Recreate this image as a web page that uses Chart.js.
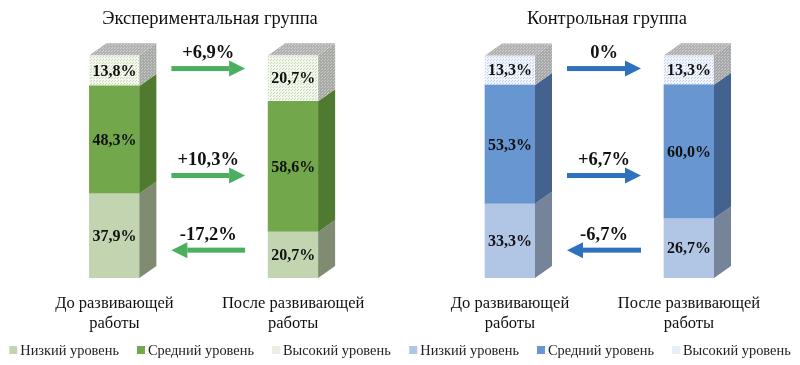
<!DOCTYPE html>
<html>
<head>
<meta charset="utf-8">
<script src="https://cdn.jsdelivr.net/npm/chart.js@4"></script>
<style>
  html, body { margin: 0; padding: 0; background: #fff; }
  #wrap { position: relative; width: 800px; height: 365px; overflow: hidden; }
  .box { position: absolute; top: 0; width: 400px; height: 365px; }
</style>
</head>
<body>
<div id="wrap">
  <div class="box" style="left:0"><canvas id="exp_chart"></canvas></div>
  <div class="box" style="left:400px"><canvas id="ctrl_chart"></canvas></div>
</div>
<script>
// data
const categories = [["До развивающей", "работы"], ["После развивающей", "работы"]]
const level_names = ["Низкий уровень", "Средний уровень", "Высокий уровень"]

const exp_low = [37.9, 20.7]
const exp_mid = [48.3, 58.6]
const exp_high = [13.8, 20.7]
const exp_change = [-17.2, 10.3, 6.9]   // low, mid, high

const ctrl_low = [33.3, 26.7]
const ctrl_mid = [53.3, 60.0]
const ctrl_high = [13.3, 13.3]
const ctrl_change = [-6.7, 6.7, 0]

const serif = "'Liberation Serif', 'Times New Roman', serif"

// small dotted fill, like the textured top block
function make_pattern(base, dot) {
  const c = document.createElement('canvas')
  c.width = 3
  c.height = 3
  const g = c.getContext('2d')
  g.fillStyle = base
  g.fillRect(0, 0, 3, 3)
  g.fillStyle = dot
  g.fillRect(0, 0, 1, 1)
  g.fillRect(1, 2, 1, 1)
  return g.createPattern(c, 'repeat')
}

function fmt_value(v) {
  return v.toFixed(1).replace('.', ',') + '%'
}

function fmt_change(v) {
  if (v === 0) return '0%'
  return (v > 0 ? '+' : '-') + Math.abs(v).toFixed(1).replace('.', ',') + '%'
}

// we draw the side and top faces, the values, the arrows and the legend
const bar_3d = {
  id: 'bar_3d',
  afterDatasetsDraw(chart, args, opts) {
    const ctx = chart.ctx
    const dx = 17, dy = 12
    const sets = chart.data.datasets
    ctx.save()
    sets.forEach((ds, di) => {
      const meta = chart.getDatasetMeta(di)
      meta.data.forEach((bar) => {
        const left = bar.x - bar.width / 2
        const right = bar.x + bar.width / 2
        const top = Math.min(bar.y, bar.base)
        const bottom = Math.max(bar.y, bar.base)
        ctx.fillStyle = ds.sideColor
        ctx.beginPath()
        ctx.moveTo(right, top)
        ctx.lineTo(right + dx, top - dy)
        ctx.lineTo(right + dx, bottom - dy)
        ctx.lineTo(right, bottom)
        ctx.closePath()
        ctx.fill()
        if (di === sets.length - 1) {
          ctx.fillStyle = opts.topColor
          ctx.beginPath()
          ctx.moveTo(left, top)
          ctx.lineTo(left + dx, top - dy)
          ctx.lineTo(right + dx, top - dy)
          ctx.lineTo(right, top)
          ctx.closePath()
          ctx.fill()
        }
      })
    })

    // values on the front faces
    ctx.fillStyle = '#111'
    ctx.font = "bold 16px " + serif
    ctx.textAlign = 'center'
    ctx.textBaseline = 'middle'
    sets.forEach((ds, di) => {
      chart.getDatasetMeta(di).data.forEach((bar, i) => {
        const mid = (bar.y + bar.base) / 2
        ctx.fillText(fmt_value(ds.data[i]), bar.x, mid + 1)
      })
    })

    // arrows between the two bars
    const y_scale = chart.scales.y
    const b0 = chart.getDatasetMeta(0).data[0]
    const b1 = chart.getDatasetMeta(0).data[1]
    const x0 = b0.x + b0.width / 2 + dx + 15
    const x1 = b1.x - b1.width / 2 - 23
    ctx.font = "bold 18.5px " + serif
    opts.changes.forEach((ch, k) => {
      const y = y_scale.getPixelForValue(opts.levels[k])
      const dir = ch < 0 ? -1 : 1
      const tail = dir > 0 ? x0 : x1
      const tip = dir > 0 ? x1 : x0
      const head = 16
      ctx.fillStyle = opts.arrowColor
      ctx.fillRect(Math.min(tail, tip - dir * head), y - 2.5, Math.abs(tip - dir * head - tail), 5)
      ctx.beginPath()
      ctx.moveTo(tip, y)
      ctx.lineTo(tip - dir * head, y - 8)
      ctx.lineTo(tip - dir * head, y + 8)
      ctx.closePath()
      ctx.fill()
      ctx.fillStyle = '#111'
      ctx.fillText(fmt_change(ch), (x0 + x1) / 2, y - 15)
    })

    // legend row at the bottom
    ctx.font = "14.4px " + serif
    ctx.textAlign = 'left'
    const gap = 18, box = 8, box_gap = 3
    const widths = sets.map(ds => ctx.measureText(ds.label).width)
    const total = widths.reduce((a, w) => a + box + box_gap + w, 0) + gap * (sets.length - 1)
    let x = chart.width / 2 - total / 2
    const ly = opts.legendY
    sets.forEach((ds, di) => {
      ctx.fillStyle = ds.legendColor
      ctx.fillRect(x, ly - box / 2, box, box)
      ctx.fillStyle = '#222'
      ctx.fillText(ds.label, x + box + box_gap, ly + 1)
      x += box + box_gap + widths[di] + gap
    })
    ctx.restore()
  }
}

function build_chart(canvas_id, title, low, mid, high, changes, colors, pad) {
  const data = {
    labels: categories,
    datasets: [
      { label: level_names[0], data: low, backgroundColor: colors.low, sideColor: colors.lowSide, legendColor: colors.low },
      { label: level_names[1], data: mid, backgroundColor: colors.mid, sideColor: colors.midSide, legendColor: colors.mid },
      { label: level_names[2], data: high, backgroundColor: colors.high, sideColor: colors.highSide, legendColor: colors.highKey }
    ]
  }
  const config = {
    type: 'bar',
    data: data,
    options: {
      responsive: true,
      maintainAspectRatio: false,
      animation: false,
      barThickness: 50,
      borderWidth: 0,
      layout: { padding: { left: pad[0], right: pad[1], top: 0, bottom: 0 } },
      scales: {
        x: {
          stacked: true,
          grid: { display: false, drawTicks: false },
          border: { display: false },
          ticks: { color: '#111', font: { family: serif, size: 16.5 }, padding: 16, maxRotation: 0 },
          afterFit(scale) { scale.height = 87 }
        },
        y: {
          stacked: true,
          position: 'right',
          min: 0,
          max: 100,
          grid: { display: false },
          border: { display: false },
          ticks: { display: false },
          afterFit(scale) { scale.width = pad[2] }
        }
      },
      plugins: {
        title: {
          display: true,
          text: title,
          color: '#111',
          font: { family: serif, size: 18.5, weight: 'normal' },
          padding: { top: 8, bottom: 25 }
        },
        legend: { display: false },
        tooltip: { enabled: false },
        bar_3d: {
          changes: changes,
          levels: [12.5, 46, 94],
          arrowColor: colors.arrow,
          topColor: colors.top,
          legendY: 350
        }
      }
    },
    plugins: [bar_3d]
  }
  return new Chart(document.getElementById(canvas_id), config)
}

const green = {
  low: '#c2d5b0', lowSide: '#7f8c72',
  mid: '#72a84b', midSide: '#4f7a30',
  high: make_pattern('#f3f7ee', '#c5d9b3'), highSide: make_pattern('#a8aaa5', '#c8cac5'),
  highKey: '#e9f0e2',
  top: make_pattern('#b2b2b2', '#d0d0d0'),
  arrow: '#4cae5f'
}
const blue = {
  low: '#b1c5e4', lowSide: '#758499',
  mid: '#6896d1', midSide: '#43638e',
  high: make_pattern('#f1f5fb', '#bfd0ea'), highSide: make_pattern('#a8a9ab', '#c8c9cb'),
  highKey: '#e8eef8',
  top: make_pattern('#b2b2b2', '#d0d0d0'),
  arrow: '#2e72bf'
}

build_chart('exp_chart', 'Экспериментальная группа', exp_low, exp_mid, exp_high, exp_change, green, [25, 5, 12.5])
build_chart('ctrl_chart', 'Контрольная группа', ctrl_low, ctrl_mid, ctrl_high, ctrl_change, blue, [20.5, 6.5, 15])
</script>
</body>
</html>
